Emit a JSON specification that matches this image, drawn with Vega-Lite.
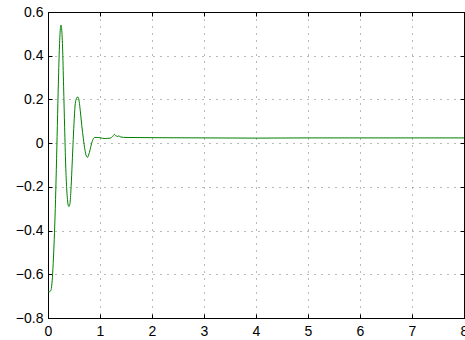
{
  "$schema": "https://vega.github.io/schema/vega-lite/v6.json",
  "autosize": {"type": "none"},
  "padding": {"left": 48, "top": 12, "right": 1, "bottom": 22},
  "width": 416,
  "height": 306,
  "background": "white",
  "config": {
    "view": {"stroke": "black", "strokeWidth": 1},
    "axis": {
      "labelFont": "Liberation Sans",
      "labelFontSize": 14,
      "labelColor": "black",
      "domainColor": "black",
      "tickColor": "black",
      "tickSize": -4,
      "gridColor": "#666",
      "gridDash": [1, 6],
      "gridWidth": 1,
      "gridOpacity": 0.9
    }
  },
  "data": {
    "values": [
      {"t": 0.00, "v": -0.68}, {"t": 0.03, "v": -0.68}, {"t": 0.06, "v": -0.67},
      {"t": 0.08, "v": -0.63}, {"t": 0.10, "v": -0.55}, {"t": 0.12, "v": -0.44},
      {"t": 0.14, "v": -0.30}, {"t": 0.16, "v": -0.12}, {"t": 0.18, "v": 0.08},
      {"t": 0.20, "v": 0.28}, {"t": 0.22, "v": 0.44}, {"t": 0.24, "v": 0.53},
      {"t": 0.25, "v": 0.54}, {"t": 0.26, "v": 0.53}, {"t": 0.28, "v": 0.44},
      {"t": 0.30, "v": 0.26}, {"t": 0.32, "v": 0.07}, {"t": 0.34, "v": -0.10},
      {"t": 0.36, "v": -0.21}, {"t": 0.38, "v": -0.27}, {"t": 0.40, "v": -0.29},
      {"t": 0.42, "v": -0.28}, {"t": 0.44, "v": -0.22}, {"t": 0.46, "v": -0.12},
      {"t": 0.48, "v": -0.01}, {"t": 0.50, "v": 0.09}, {"t": 0.52, "v": 0.17},
      {"t": 0.54, "v": 0.20}, {"t": 0.56, "v": 0.21}, {"t": 0.58, "v": 0.21},
      {"t": 0.60, "v": 0.19}, {"t": 0.62, "v": 0.15}, {"t": 0.65, "v": 0.08},
      {"t": 0.68, "v": 0.02}, {"t": 0.71, "v": -0.03}, {"t": 0.74, "v": -0.06},
      {"t": 0.76, "v": -0.065}, {"t": 0.78, "v": -0.055}, {"t": 0.81, "v": -0.03},
      {"t": 0.84, "v": 0.0}, {"t": 0.87, "v": 0.02}, {"t": 0.90, "v": 0.026},
      {"t": 0.95, "v": 0.026}, {"t": 1.00, "v": 0.025}, {"t": 1.05, "v": 0.022},
      {"t": 1.10, "v": 0.021}, {"t": 1.15, "v": 0.022}, {"t": 1.20, "v": 0.023},
      {"t": 1.25, "v": 0.033}, {"t": 1.28, "v": 0.04}, {"t": 1.30, "v": 0.036},
      {"t": 1.33, "v": 0.030}, {"t": 1.36, "v": 0.033}, {"t": 1.40, "v": 0.028},
      {"t": 1.50, "v": 0.026}, {"t": 2.0, "v": 0.025}, {"t": 3.0, "v": 0.024},
      {"t": 4.0, "v": 0.023}, {"t": 5.0, "v": 0.024}, {"t": 8.0, "v": 0.024}
    ]
  },
  "layer": [
    {
      "mark": {"type": "line", "color": "#008000", "strokeWidth": 1, "interpolate": "monotone", "clip": true},
      "encoding": {
        "x": {
          "field": "t", "type": "quantitative",
          "scale": {"domain": [0, 8], "nice": false, "zero": false},
          "axis": {"title": null, "orient": "bottom", "values": [0,1,2,3,4,5,6,7,8], "format": "d", "labelPadding": 10, "labelFlush": false}
        },
        "y": {
          "field": "v", "type": "quantitative",
          "scale": {"domain": [-0.8, 0.6], "nice": false, "zero": false},
          "axis": {"title": null, "orient": "left", "values": [-0.8,-0.6,-0.4,-0.2,0,0.2,0.4,0.6], "labelExpr": "datum.value == 0 ? '0' : replace(format(datum.value, '.1f'), '-', '\u2212')", "labelPadding": 9, "labelFlush": false}
        }
      }
    },
    {
      "mark": {"type": "line", "opacity": 0, "clip": true},
      "encoding": {
        "x": {
          "field": "t", "type": "quantitative",
          "axis": {"title": null, "orient": "top", "values": [0,1,2,3,4,5,6,7,8], "labels": false, "grid": false}
        },
        "y": {
          "field": "v", "type": "quantitative",
          "axis": {"title": null, "orient": "right", "values": [-0.8,-0.6,-0.4,-0.2,0,0.2,0.4,0.6], "labels": false, "grid": false}
        }
      }
    }
  ],
  "resolve": {"axis": {"x": "independent", "y": "independent"}}
}
